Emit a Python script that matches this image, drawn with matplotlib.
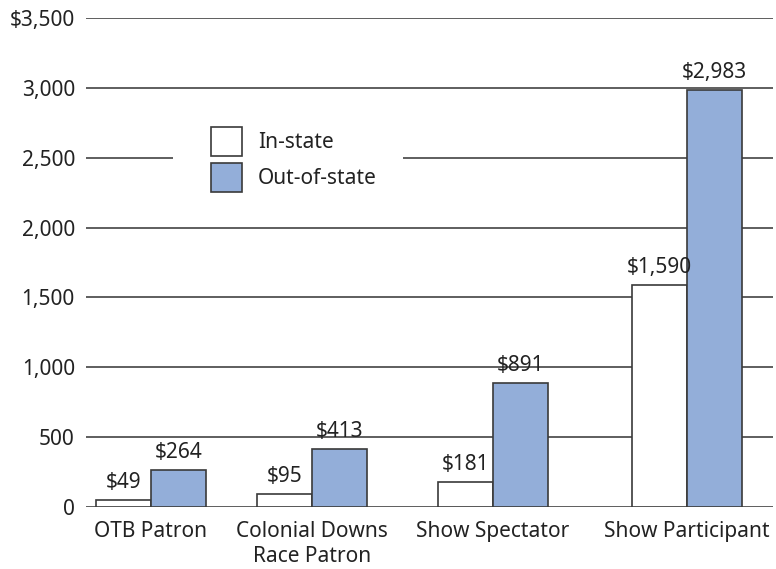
import matplotlib
matplotlib.use("Agg")
import matplotlib.pyplot as plt
from matplotlib.patches import Patch, Rectangle

# data
categories = ["OTB Patron", "Colonial Downs\nRace Patron", "Show Spectator", "Show Participant"]
in_state = [49, 95, 181, 1590]
out_state = [264, 413, 891, 2983]
series_names = ["In-state", "Out-of-state"]
y_ticks = [0, 500, 1000, 1500, 2000, 2500, 3000, 3500]
y_tick_labels = ["0", "500", "1,000", "1,500", "2,000", "2,500", "3,000", "$3,500"]

# layout (axes x units are pixels across the plot width)
group_x = [151, 312, 493, 687]
bar_w = 55
blue = "#93aed9"
edge = "#3a3a3a"
txt = "#222222"
fs = 15

plt.rcParams["font.family"] = ["Noto Sans", "DejaVu Sans"]

fig = plt.figure(figsize=(7.76, 5.69), dpi=100)
ax = fig.add_axes([86 / 776, 1 - 507 / 569, (773 - 86) / 776, (507 - 18) / 569])

for y in y_ticks:
    ax.axhline(y, color="#333333", lw=1.1, zorder=2)

ax.bar([x - bar_w / 2 for x in group_x], in_state, width=bar_w, color="white",
       edgecolor=edge, lw=1.2, zorder=3)
ax.bar([x + bar_w / 2 for x in group_x], out_state, width=bar_w, color=blue,
       edgecolor=edge, lw=1.2, zorder=3)

for x, v in zip(group_x, in_state):
    ax.text(x - bar_w / 2, v + 50, f"${v:,}", ha="center", va="bottom", fontsize=fs, color=txt, zorder=3.5)
for x, v in zip(group_x, out_state):
    ax.text(x + bar_w / 2, v + 50, f"${v:,}", ha="center", va="bottom", fontsize=fs, color=txt, zorder=3.5)

ax.set_xlim(86, 773)
ax.set_ylim(0, 3500)
ax.set_yticks(y_ticks)
ax.set_yticklabels(y_tick_labels, fontsize=fs, color=txt)
ax.set_xticks(group_x)
ax.set_xticklabels(categories, fontsize=fs, color=txt, linespacing=1.25)
ax.tick_params(axis="y", length=0, pad=8)
ax.tick_params(axis="x", length=0, pad=10)
for s in ax.spines.values():
    s.set_visible(False)

# white patch behind the legend, breaking the gridline
ax.add_patch(Rectangle((173, 2180), 403 - 173, 700, facecolor="white",
                       edgecolor="none", zorder=4))

handles = [Patch(facecolor="white", edgecolor=edge, lw=1.2),
           Patch(facecolor=blue, edgecolor=edge, lw=1.2)]
leg = ax.legend(handles, series_names, loc="upper left",
                bbox_to_anchor=((211 - 86) / 687, (507 - 127) / 489),
                frameon=False, fontsize=fs, handlelength=1.5, handleheight=1.75,
                handletextpad=0.75, labelspacing=0.35, borderpad=0,
                borderaxespad=0)
leg.set_zorder(5)
for t in leg.get_texts():
    t.set_color(txt)

fig.savefig("out.png", dpi=100)
